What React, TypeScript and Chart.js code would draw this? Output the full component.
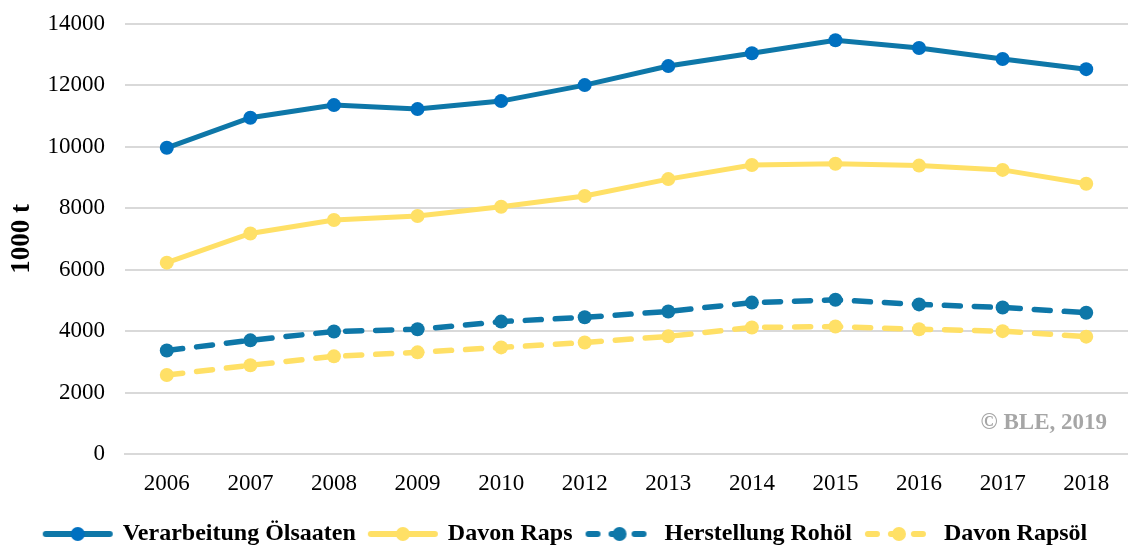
import React, { useEffect, useRef } from "react";
import { Chart, registerables } from "chart.js";

Chart.register(...registerables);

const years = ["2006", "2007", "2008", "2009", "2010", "2012", "2013", "2014", "2015", "2016", "2017", "2018"];
const verarbeitungOelsaaten = [9970, 10950, 11360, 11230, 11490, 12010, 12630, 13050, 13470, 13220, 12860, 12530];
const davonRaps = [6230, 7180, 7620, 7750, 8050, 8400, 8950, 9410, 9450, 9390, 9250, 8800];
const herstellungRohoel = [3370, 3700, 3990, 4060, 4310, 4450, 4640, 4930, 5020, 4870, 4770, 4600];
const davonRapsoel = [2570, 2890, 3180, 3310, 3470, 3630, 3830, 4120, 4150, 4060, 4000, 3820];
const seriesNames = ["Verarbeitung Ölsaaten", "Davon Raps", "Herstellung Rohöl", "Davon Rapsöl"];
const yTitle = "1000 t";
const watermark = "© BLE, 2019";

const BLUE_LINE = "#0E77A8";
const BLUE_POINT = "#0070C0";
const YELLOW = "#FFE066";
const FONT = "'Liberation Serif', 'Times New Roman', serif";
const FS = 23;

function legendIcon(line: string, point: string, dashed: boolean): HTMLCanvasElement {
  const c = document.createElement("canvas");
  c.width = 72;
  c.height = 16;
  const ctx = c.getContext("2d")!;
  ctx.strokeStyle = line;
  ctx.lineWidth = 6;
  ctx.lineCap = "round";
  if (dashed) {
    ctx.setLineDash([9, 14]);
    ctx.lineDashOffset = -1;
  }
  ctx.beginPath();
  ctx.moveTo(4, 8);
  ctx.lineTo(68, 8);
  ctx.stroke();
  ctx.setLineDash([]);
  ctx.fillStyle = point;
  ctx.beginPath();
  ctx.arc(36, 8, 7, 0, Math.PI * 2);
  ctx.fill();
  return c;
}

export default function App() {
  const ref = useRef<HTMLCanvasElement | null>(null);

  useEffect(() => {
    if (!ref.current) return;
    const icons = [
      legendIcon(BLUE_LINE, BLUE_POINT, false),
      legendIcon(YELLOW, YELLOW, false),
      legendIcon(BLUE_LINE, BLUE_LINE, true),
      legendIcon(YELLOW, YELLOW, true),
    ];
    const watermarkPlugin = {
      id: "watermark",
      afterDraw(chart: any) {
        const { ctx, chartArea } = chart;
        ctx.save();
        ctx.font = `bold ${FS}px ${FONT}`;
        ctx.fillStyle = "#A6A6A6";
        ctx.textAlign = "right";
        ctx.textBaseline = "middle";
        ctx.fillText(watermark, chartArea.right - 21, chartArea.bottom - 31);
        ctx.restore();
      },
    };
    const chart = new Chart(ref.current, {
      type: "line",
      data: {
        labels: years,
        datasets: [
          {
            label: seriesNames[0],
            data: verarbeitungOelsaaten,
            borderColor: BLUE_LINE,
            backgroundColor: BLUE_POINT,
            pointBackgroundColor: BLUE_POINT,
            pointBorderColor: BLUE_POINT,
            borderWidth: 5,
            pointRadius: 7,
            pointBorderWidth: 0,
          },
          {
            label: seriesNames[1],
            data: davonRaps,
            borderColor: YELLOW,
            backgroundColor: YELLOW,
            pointBackgroundColor: YELLOW,
            pointBorderColor: YELLOW,
            borderWidth: 5,
            pointRadius: 7,
            pointBorderWidth: 0,
          },
          {
            label: seriesNames[2],
            data: herstellungRohoel,
            borderColor: BLUE_LINE,
            backgroundColor: BLUE_LINE,
            pointBackgroundColor: BLUE_LINE,
            pointBorderColor: BLUE_LINE,
            borderWidth: 5.5,
            borderDash: [16, 14],
            borderCapStyle: "round",
            pointRadius: 7,
            pointBorderWidth: 0,
          },
          {
            label: seriesNames[3],
            data: davonRapsoel,
            borderColor: YELLOW,
            backgroundColor: YELLOW,
            pointBackgroundColor: YELLOW,
            pointBorderColor: YELLOW,
            borderWidth: 5.5,
            borderDash: [16, 14],
            borderCapStyle: "round",
            pointRadius: 7,
            pointBorderWidth: 0,
          },
        ],
      },
      options: {
        animation: false,
        responsive: false,
        maintainAspectRatio: false,
        layout: { autoPadding: false, padding: { left: 0, right: -4, top: 0, bottom: -11 } },
        scales: {
          x: {
            offset: true,
            grid: { display: false, drawTicks: false },
            border: { display: true, color: "#D9D9D9", width: 2 },
            ticks: { color: "#000", font: { family: FONT, size: FS }, padding: 16, maxRotation: 0 },
            afterFit(scale: any) {
              scale.paddingLeft = 0;
              scale.paddingRight = 0;
              scale.height = 54;
            },
          },
          y: {
            min: 0,
            max: 14000,
            ticks: {
              stepSize: 2000,
              color: "#000",
              font: { family: FONT, size: FS },
              padding: 20,
              callback: (v: any) => String(v),
            },
            grid: { color: "#D9D9D9", lineWidth: 2, drawTicks: false },
            border: { display: false },
            title: {
              display: true,
              text: yTitle,
              color: "#000",
              font: { family: FONT, size: 27, weight: "bold" },
              padding: { top: 6, bottom: 4 },
            },
            afterFit(scale: any) {
              scale.width = 125;
              scale.paddingTop = 24;
            },
          },
        },
        plugins: {
          legend: {
            position: "bottom",
            labels: {
              usePointStyle: true,
              pointStyleWidth: 66,
              padding: 14,
              color: "#000",
              font: { family: FONT, size: 24, weight: "bold" },
              generateLabels(ch: any) {
                const base = Chart.defaults.plugins.legend.labels.generateLabels(ch);
                return base.map((item: any, i: number) => ({ ...item, pointStyle: icons[i] }));
              },
            },
          },
          tooltip: { enabled: false },
        },
      } as any,
      plugins: [watermarkPlugin],
    });
    return () => chart.destroy();
  }, []);

  return (
    <div style={{ position: "fixed", left: 0, top: 0, width: 1128, height: 545, background: "#fff" }}>
      <canvas ref={ref} width={1128} height={545} style={{ width: 1128, height: 545 }} />
    </div>
  );
}
